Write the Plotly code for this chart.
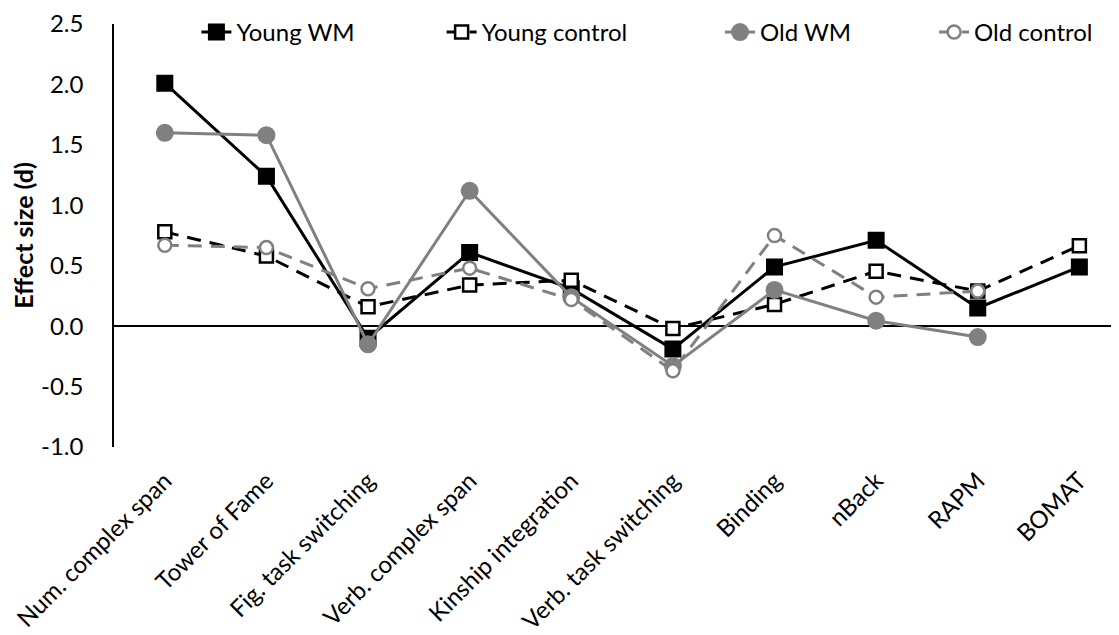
import plotly.graph_objects as go

categories = ["Num. complex span", "Tower of Fame", "Fig. task switching",
              "Verb. complex span", "Kinship integration", "Verb. task switching",
              "Binding", "nBack", "RAPM", "BOMAT"]
young_wm = [2.01, 1.24, -0.10, 0.61, 0.31, -0.19, 0.49, 0.71, 0.15, 0.49]
young_control = [0.78, 0.58, 0.16, 0.34, 0.38, -0.02, 0.18, 0.455, 0.29, 0.665]
old_wm = [1.60, 1.58, -0.15, 1.12, 0.24, -0.33, 0.30, 0.045, -0.09, None]
old_control = [0.67, 0.65, 0.31, 0.48, 0.22, -0.37, 0.75, 0.24, 0.29, None]
y_ticks = [-1.0, -0.5, 0.0, 0.5, 1.0, 1.5, 2.0, 2.5]

FONT = "Lato"
GRAY = "#808080"
DASH = "14px,9px"
xs = list(range(len(categories)))

fig = go.Figure()
fig.add_trace(go.Scatter(
    x=xs, y=young_wm, name="Young WM", mode="lines+markers", legend="legend",
    line=dict(color="black", width=3),
    marker=dict(symbol="square", size=15, color="black",
                line=dict(color="black", width=2))))
fig.add_trace(go.Scatter(
    x=xs, y=young_control, name="Young control", mode="lines+markers", legend="legend2",
    line=dict(color="black", width=3, dash=DASH),
    marker=dict(symbol="square", size=13, color="white",
                line=dict(color="black", width=2.5))))
fig.add_trace(go.Scatter(
    x=xs, y=old_wm, name="Old WM", mode="lines+markers", legend="legend3",
    line=dict(color=GRAY, width=3),
    marker=dict(symbol="circle", size=16, color=GRAY,
                line=dict(color=GRAY, width=2))))
fig.add_trace(go.Scatter(
    x=xs, y=old_control, name="Old control", mode="lines+markers", legend="legend4",
    line=dict(color=GRAY, width=3, dash=DASH),
    marker=dict(symbol="circle", size=13, color="white",
                line=dict(color=GRAY, width=2.5))))

leg_common = dict(orientation="h", y=0.98, xanchor="left", yanchor="middle",
                  font=dict(family=FONT, size=24, color="black"),
                  bgcolor="rgba(0,0,0,0)", itemwidth=30)

# the page body adds an 8px offset, so the figure is 8px smaller than the window
fig.update_layout(
    width=1111, height=627,
    margin=dict(l=106, r=0, t=12, b=188, pad=0),
    paper_bgcolor="white", plot_bgcolor="white",
    font=dict(family=FONT, size=24, color="black"),
    showlegend=True,
    legend=dict(x=0.082, **leg_common),
    legend2=dict(x=0.326, **leg_common),
    legend3=dict(x=0.603, **leg_common),
    legend4=dict(x=0.816, **leg_common),
)
fig.update_xaxes(
    range=[-0.5, 9.39], tickmode="array", tickvals=xs, ticktext=categories,
    tickangle=-45, showline=False, showgrid=False, zeroline=False,
    ticks="", tickfont=dict(family=FONT, size=24, color="black"),
    ticklabelstandoff=14)
fig.update_yaxes(
    range=[-1.0, 2.5], tickmode="array", tickvals=y_ticks,
    ticktext=[f"{v:.1f}" for v in y_ticks],
    showline=True, linecolor="black", linewidth=1.5,
    showgrid=False, zeroline=True, zerolinecolor="black", zerolinewidth=1.5,
    ticks="", tickfont=dict(family=FONT, size=24, color="black"),
    ticklabelstandoff=24, ticklabeloverflow="allow",
    title=dict(text="<b>Effect size (d)</b>", font=dict(family=FONT, size=25, color="black"),
               standoff=10))

fig.write_html("out.html")
